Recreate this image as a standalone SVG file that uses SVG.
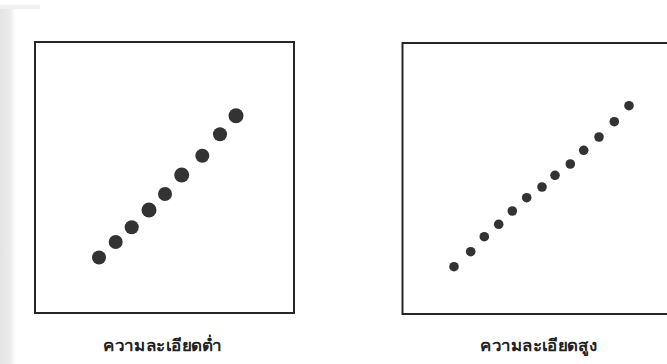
<svg xmlns="http://www.w3.org/2000/svg" width="667" height="364" viewBox="0 0 667 364">
  <defs>
    <linearGradient id="edge" x1="0" y1="0" x2="1" y2="0">
      <stop offset="0" stop-color="#e4e4e4"/>
      <stop offset="0.6" stop-color="#ebebeb"/>
      <stop offset="1" stop-color="#ffffff"/>
    </linearGradient>
    <style>
      .frame { fill: none; stroke: #262626; stroke-width: 2; }
      .big { fill: #333333; }
      .small { fill: #333333; }
      .label { font-family: "Noto Sans", "DejaVu Sans", "Liberation Sans", sans-serif; font-size: 16px; font-weight: bold; fill: #222222; text-anchor: middle; }
    </style>
  </defs>
  <rect width="667" height="364" fill="#ffffff"/>
  <rect x="0" y="5" width="16" height="359" fill="url(#edge)"/>
  <rect x="0" y="5" width="40" height="4" fill="#f0f0f0"/>

  <g id="low-resolution">
    <rect class="frame" x="35" y="42" width="259" height="271"/>
    <g class="big">
      <circle cx="99" cy="257.5" r="7"/>
      <circle cx="115.7" cy="242" r="7"/>
      <circle cx="131.7" cy="227.3" r="7"/>
      <circle cx="149" cy="210" r="7.5"/>
      <circle cx="165" cy="194" r="7"/>
      <circle cx="181.7" cy="175" r="7.5"/>
      <circle cx="202.3" cy="155.7" r="7"/>
      <circle cx="220" cy="134.3" r="7"/>
      <circle cx="236" cy="115.7" r="7.5"/>
    </g>
    <text class="label" x="162.5" y="351" textLength="119" lengthAdjust="spacingAndGlyphs">ความละเอียดต่ำ</text>
  </g>

  <g id="high-resolution">
    <path class="frame" d="M 670 43 H 402.5 V 314 H 670"/>
    <g class="small">
      <circle cx="454" cy="266.7" r="4.8"/>
      <circle cx="470.7" cy="251.7" r="4.8"/>
      <circle cx="484.3" cy="236.7" r="4.8"/>
      <circle cx="498.7" cy="224.3" r="4.8"/>
      <circle cx="512.3" cy="211" r="4.8"/>
      <circle cx="526.7" cy="197.7" r="4.8"/>
      <circle cx="542" cy="187" r="4.8"/>
      <circle cx="555" cy="175.3" r="4.8"/>
      <circle cx="570.3" cy="164" r="4.8"/>
      <circle cx="583.7" cy="150.3" r="4.8"/>
      <circle cx="599" cy="137" r="4.8"/>
      <circle cx="614.3" cy="121.7" r="4.8"/>
      <circle cx="629" cy="105.7" r="4.8"/>
    </g>
    <text class="label" x="538.5" y="351" textLength="117" lengthAdjust="spacingAndGlyphs">ความละเอียดสูง</text>
  </g>
</svg>
